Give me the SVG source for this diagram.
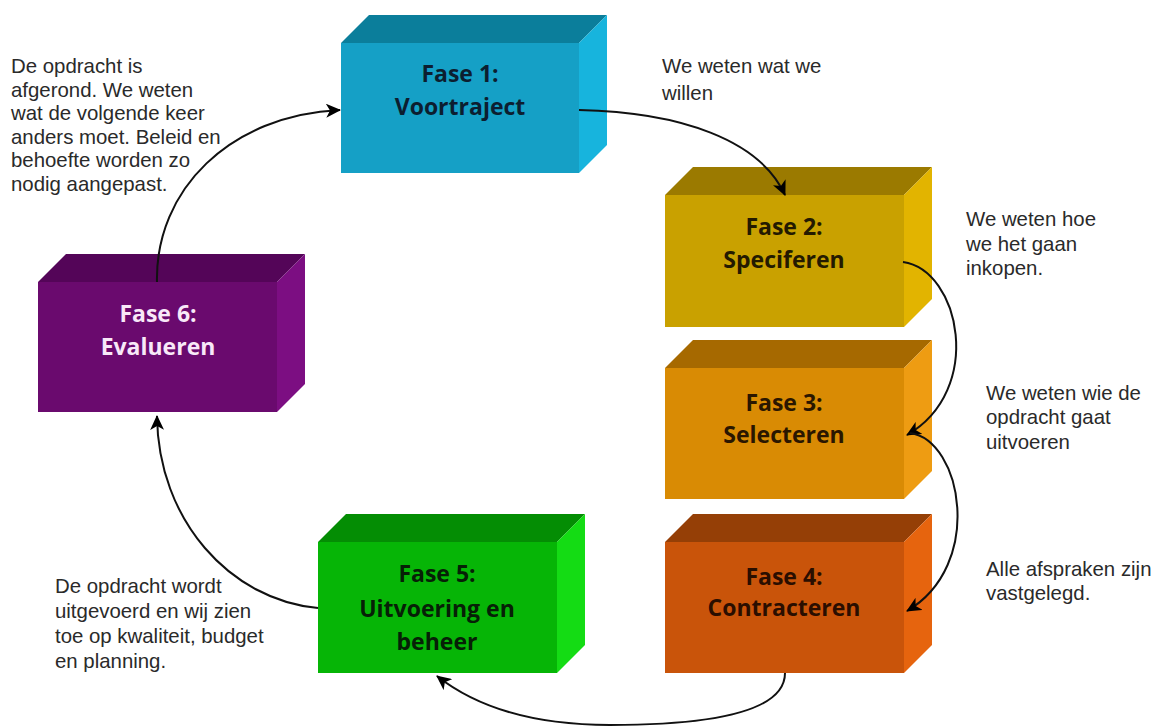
<svg xmlns="http://www.w3.org/2000/svg" width="1152" height="727" viewBox="0 0 1152 727">
<style>
.t{font-family:"Open Sans","Liberation Sans",sans-serif;font-weight:bold;font-size:23px;text-anchor:middle}
.d{font-family:"Liberation Sans",Arial,sans-serif;font-size:20.4px;fill:#2a2a2a}
.c{fill:none;stroke:#111;stroke-width:2}
</style>
<defs>
<marker id="ah" markerUnits="userSpaceOnUse" markerWidth="16" markerHeight="14" refX="14" refY="7" orient="auto">
<path d="M0,0 L15,7 L0,14 L4,7 Z" fill="#000"/>
</marker>
</defs>
<rect width="1152" height="727" fill="#fff"/>

<g id="fase1">
<polygon points="341,43 369,15 607,15 579,43" fill="#0b7e9b"/>
<polygon points="579,43 607,15 607,145 579,173" fill="#17b4dd"/>
<rect x="341" y="43" width="238" height="130" fill="#15a0c6"/>
<text class="t" x="460" y="82" fill="#0c1e30">Fase 1:</text>
<text class="t" x="460" y="115" fill="#0c1e30">Voortraject</text>
</g>

<g id="fase2">
<polygon points="665,195 693,167 932,167 904,195" fill="#9b7a00"/>
<polygon points="904,195 932,167 932,299 904,327" fill="#e2b400"/>
<rect x="665" y="195" width="239" height="132" fill="#c9a100"/>
<text class="t" x="784" y="235" fill="#241a00">Fase 2:</text>
<text class="t" x="784" y="268" fill="#241a00">Speciferen</text>
</g>

<g id="fase3">
<polygon points="665,368 693,340 932,340 904,368" fill="#a66900"/>
<polygon points="904,368 932,340 932,471 904,499" fill="#ee9c12"/>
<rect x="665" y="368" width="239" height="131" fill="#d98b04"/>
<text class="t" x="784" y="411" fill="#2a1600">Fase 3:</text>
<text class="t" x="784" y="443" fill="#2a1600">Selecteren</text>
</g>

<g id="fase4">
<polygon points="665,542 693,514 932,514 904,542" fill="#953f06"/>
<polygon points="904,542 932,514 932,645 904,673" fill="#e6640e"/>
<rect x="665" y="542" width="239" height="131" fill="#c9540a"/>
<text class="t" x="784" y="585" fill="#2a0e00">Fase 4:</text>
<text class="t" x="784" y="616" fill="#2a0e00">Contracteren</text>
</g>

<g id="fase5">
<polygon points="318,542 346,514 585,514 557,542" fill="#048d04"/>
<polygon points="557,542 585,514 585,645 557,673" fill="#14dc14"/>
<rect x="318" y="542" width="239" height="131" fill="#06b506"/>
<text class="t" x="437" y="582" fill="#062006">Fase 5:</text>
<text class="t" x="437" y="617" fill="#062006">Uitvoering en</text>
<text class="t" x="437" y="650" fill="#062006">beheer</text>
</g>

<g id="fase6">
<polygon points="38,282 66,254 305,254 277,282" fill="#540558"/>
<polygon points="277,282 305,254 305,384 277,412" fill="#7c0e82"/>
<rect x="38" y="282" width="239" height="130" fill="#6a0a6e"/>
<text class="t" x="158" y="322" fill="#f8e8f8">Fase 6:</text>
<text class="t" x="158" y="355" fill="#f8e8f8">Evalueren</text>
</g>

<g id="connectors">
<path class="c" d="M579,110 C680,112 760,140 785,195" marker-end="url(#ah)"/>
<path class="c" d="M903,262 C960,270 985,390 907,435" marker-end="url(#ah)"/>
<path class="c" d="M910,433 C962,440 985,565 907,611" marker-end="url(#ah)"/>
<path class="c" d="M785,673 C785,715 700,725 610,725 C540,725 480,710 437,676" marker-end="url(#ah)"/>
<path class="c" d="M318,608 C230,600 158,520 157,416" marker-end="url(#ah)"/>
<path class="c" d="M157,282 C155,190 230,115 340,110" marker-end="url(#ah)"/>
</g>

<g id="notes">
<text class="d" x="11" y="73">De opdracht is</text>
<text class="d" x="11" y="96.5">afgerond. We weten</text>
<text class="d" x="11" y="120">wat de volgende keer</text>
<text class="d" x="11" y="143.5">anders moet. Beleid en</text>
<text class="d" x="11" y="167">behoefte worden zo</text>
<text class="d" x="11" y="190.5">nodig aangepast.</text>
<text class="d" x="662" y="73">We weten wat we</text>
<text class="d" x="662" y="100">willen</text>
<text class="d" x="966" y="226">We weten hoe</text>
<text class="d" x="966" y="251">we het gaan</text>
<text class="d" x="966" y="275">inkopen.</text>
<text class="d" x="986" y="400">We weten wie de</text>
<text class="d" x="986" y="424">opdracht gaat</text>
<text class="d" x="986" y="449">uitvoeren</text>
<text class="d" x="986" y="576">Alle afspraken zijn</text>
<text class="d" x="986" y="600">vastgelegd.</text>
<text class="d" x="55" y="593">De opdracht wordt</text>
<text class="d" x="55" y="618">uitgevoerd en wij zien</text>
<text class="d" x="55" y="643">toe op kwaliteit, budget</text>
<text class="d" x="55" y="668">en planning.</text>
</g>
</svg>
